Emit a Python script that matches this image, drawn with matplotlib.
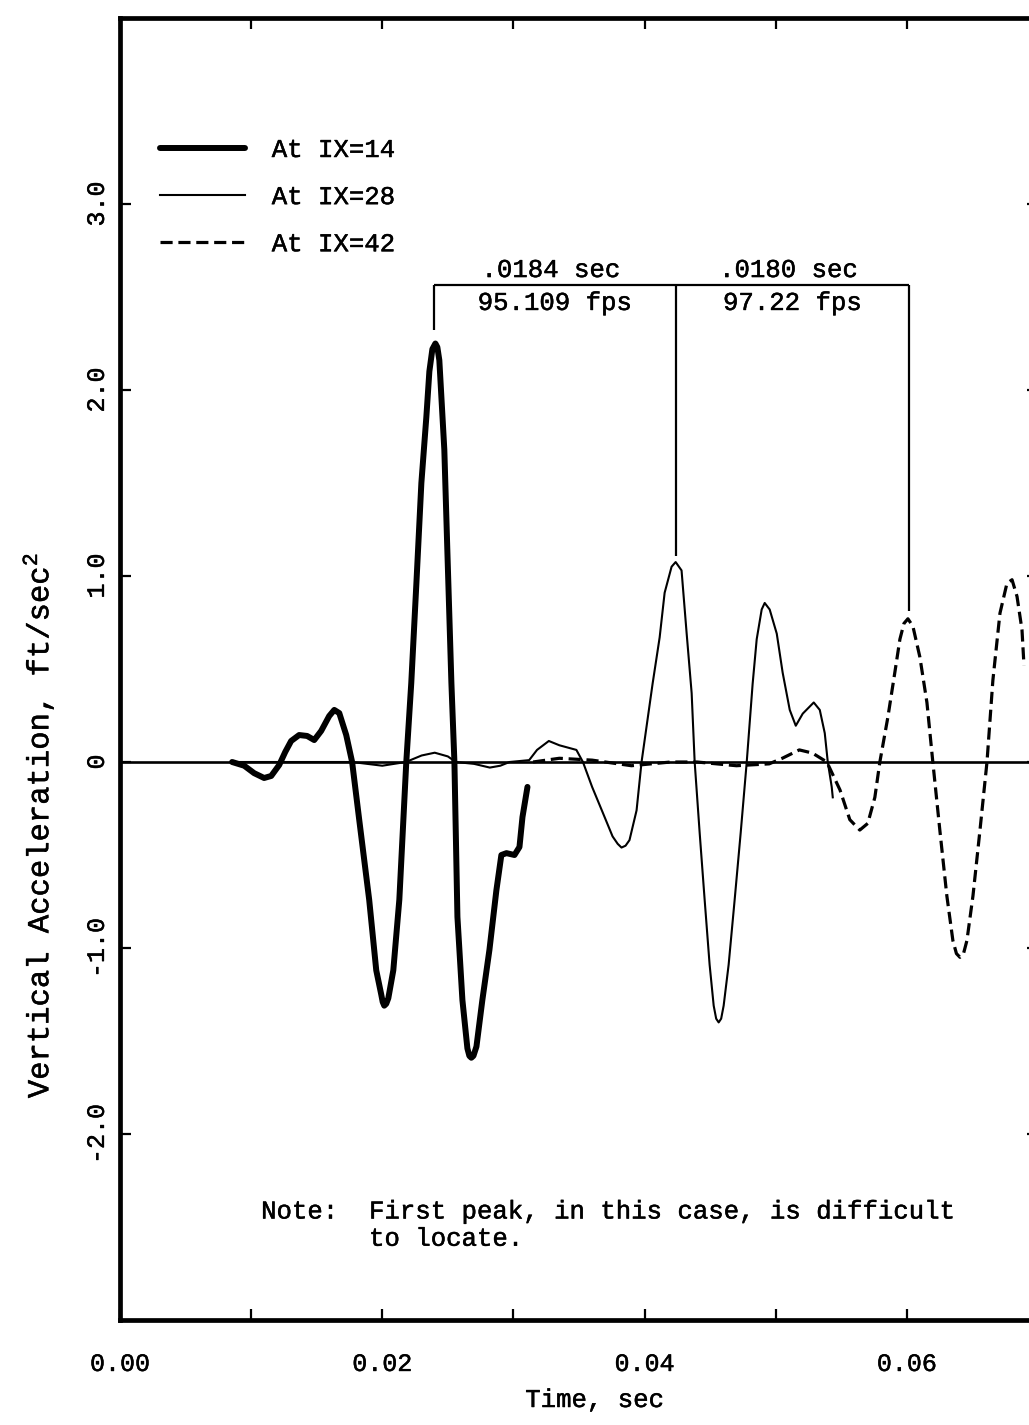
import matplotlib
matplotlib.use("Agg")
import matplotlib.pyplot as plt
import matplotlib.patheffects as pe
from matplotlib.ticker import FixedLocator

plt.rcParams['font.family'] = ['Liberation Mono', 'DejaVu Sans Mono']
plt.rcParams['mathtext.fontset'] = 'custom'
plt.rcParams['mathtext.rm'] = 'Liberation Mono'
plt.rcParams['mathtext.it'] = 'Liberation Mono'

# ---------------- data ----------------
t14 = [0.00855, 0.00947, 0.01023, 0.01099, 0.01153, 0.01214, 0.0126, 0.01305, 0.01366,
       0.01427, 0.01481, 0.01534, 0.01595, 0.01634, 0.01672, 0.01725, 0.0177, 0.01824,
       0.0190, 0.01954, 0.01992, 0.02003, 0.02015, 0.0203, 0.02046, 0.02084, 0.0213,
       0.02183, 0.02221, 0.0226, 0.02298, 0.02336, 0.02359, 0.02382, 0.02405, 0.0242,
       0.02435, 0.02473, 0.02496, 0.02527, 0.0255, 0.02573, 0.02611, 0.02649, 0.02664,
       0.02679, 0.02695, 0.02718, 0.02763, 0.02817, 0.0287, 0.02908, 0.02947, 0.03008,
       0.03046, 0.03069, 0.03107]
a14 = [0.0, -0.02, -0.06, -0.086, -0.075, -0.016, 0.054, 0.113, 0.145,
       0.14, 0.118, 0.167, 0.247, 0.28, 0.263, 0.145, 0.0, -0.31,
       -0.74, -1.12, -1.25, -1.29, -1.31, -1.30, -1.27, -1.12, -0.74,
       0.0, 0.425, 0.96, 1.5, 1.855, 2.10, 2.22, 2.25, 2.23,
       2.16, 1.68, 1.14, 0.425, 0.0, -0.833, -1.28, -1.54, -1.58,
       -1.59, -1.58, -1.53, -1.28, -1.01, -0.69, -0.5, -0.49, -0.5,
       -0.457, -0.296, -0.134]

t28 = [0.00855, 0.0177, 0.0200, 0.0218, 0.0230, 0.0240, 0.0250, 0.0256, 0.0270,
       0.0282, 0.0290, 0.0297, 0.0312, 0.0318, 0.0327, 0.0335, 0.0348, 0.0353,
       0.0360, 0.0368, 0.03756, 0.03795, 0.03824, 0.03855, 0.03885, 0.03939, 0.03977,
       0.04015, 0.04061, 0.04115, 0.04153, 0.04206, 0.04237, 0.04282, 0.04321, 0.04359,
       0.04382, 0.0442, 0.04458, 0.04496, 0.04527, 0.04546, 0.04565, 0.04584, 0.04603,
       0.04641, 0.04687, 0.04733, 0.04779, 0.04824, 0.04855, 0.04893, 0.04916, 0.04954,
       0.05008, 0.05053, 0.05107, 0.05153, 0.05206, 0.0529, 0.05336, 0.05374, 0.05397,
       0.05427, 0.05435]
a28 = [0.0, 0.0, -0.02, 0.0, 0.035, 0.05, 0.03, 0.0, -0.01,
       -0.03, -0.02, 0.0, 0.01, 0.065, 0.113, 0.09, 0.065, 0.0,
       -0.134, -0.27, -0.40, -0.44, -0.46, -0.45, -0.42, -0.26, 0.0,
       0.19, 0.42, 0.67, 0.91, 1.05, 1.075, 1.03, 0.69, 0.37,
       0.0, -0.38, -0.74, -1.09, -1.31, -1.38, -1.40, -1.38, -1.31,
       -1.09, -0.74, -0.38, 0.0, 0.42, 0.66, 0.82, 0.855, 0.82,
       0.69, 0.48, 0.28, 0.195, 0.26, 0.32, 0.28, 0.155, 0.0,
       -0.134, -0.19]

t42 = [0.0315, 0.0335, 0.0360, 0.0390, 0.0420, 0.0440, 0.0470, 0.0495, 0.0505,
       0.0518, 0.0528, 0.0539, 0.0549, 0.05565, 0.05641, 0.05702, 0.05756, 0.05794,
       0.05855, 0.05908, 0.05947, 0.05978, 0.06008, 0.06046, 0.06099, 0.06153, 0.06198,
       0.06252, 0.06305, 0.06351, 0.06378, 0.06405, 0.06432, 0.06458, 0.06504, 0.06557,
       0.06611, 0.06656, 0.0671, 0.06763, 0.06802, 0.0684, 0.06878, 0.06893]
a42 = [0.0, 0.02, 0.01, -0.02, 0.0, 0.0, -0.02, -0.01, 0.02,
       0.065, 0.048, 0.0, -0.15, -0.31, -0.366, -0.33, -0.19, 0.0,
       0.24, 0.48, 0.66, 0.745, 0.77, 0.73, 0.565, 0.32, 0.0,
       -0.37, -0.72, -0.96, -1.03, -1.05, -1.03, -0.96, -0.72, -0.37,
       0.0, 0.44, 0.8, 0.96, 0.98, 0.89, 0.71, 0.52]

series_labels = ["At IX=14", "At IX=28", "At IX=42"]

# bracket annotation (peak times and peak tops), interval texts
bracket_t = [0.02397, 0.0424, 0.0602]
bracket_low = [2.32, 1.11, 0.81]
bracket_level = 2.565
interval_sec = [".0184 sec", ".0180 sec"]
interval_fps = ["95.109 fps", "97.22 fps"]

xticks_major = [0.00, 0.02, 0.04, 0.06]
xticks_minor = [0.01, 0.03, 0.05]
xtick_labels = ["0.00", "0.02", "0.04", "0.06"]
yticks = [3.0, 2.0, 1.0, 0.0, -1.0, -2.0]
ytick_labels = ["3.0", "2.0", "1.0", "0", "-1.0", "-2.0"]

note_text = "Note:  First peak, in this case, is difficult\n       to locate."

# ---------------- figure ----------------
W, H = 1029, 1425
fig = plt.figure(figsize=(W / 100, H / 100), dpi=100)
ax = fig.add_axes([120 / W, (H - 1320) / H, (1038 - 120) / W, (1320 - 18) / H])
ax.set_xlim(0.0, 0.07)
ax.set_ylim(-3.0, 4.0)

bold_fx = [pe.withStroke(linewidth=0.35, foreground='black')]

ax.axhline(0, color='black', lw=1.9, zorder=1)
ax.plot(t14, a14, color='black', lw=4.3, solid_capstyle='round', solid_joinstyle='round',
        label=series_labels[0], zorder=3)
ax.plot(t28, a28, color='black', lw=1.5, solid_joinstyle='round', label=series_labels[1], zorder=2)
ax.plot(t42, a42, color='black', lw=2.3, dashes=(3.8, 1.8), label=series_labels[2], zorder=2)

# bracket
ax.hlines(bracket_level, bracket_t[0], bracket_t[-1], color='black', lw=1.6)
ax.vlines(bracket_t, bracket_low, bracket_level, color='black', lw=1.6)
fs = 18.5
for i in range(2):
    xm = 0.5 * (bracket_t[i] + bracket_t[i + 1])
    ax.text(xm - 0.0003, bracket_level + 0.08, interval_sec[i], ha='center', va='center',
            fontsize=fs, path_effects=bold_fx)
    ax.text(xm, bracket_level - 0.097, interval_fps[i], ha='center', va='center',
            fontsize=fs, path_effects=bold_fx)

ax.text(0.01076, -2.49, note_text, ha='left', va='center', fontsize=fs, linespacing=1.17,
        path_effects=bold_fx)

# ticks
ax.xaxis.set_major_locator(FixedLocator(xticks_major))
ax.xaxis.set_minor_locator(FixedLocator(xticks_minor))
ax.set_xticklabels(xtick_labels)
ax.yaxis.set_major_locator(FixedLocator(yticks))
ax.set_yticklabels(ytick_labels)
ax.tick_params(axis='both', which='both', direction='in', top=True, right=True,
               length=8, width=1.6, labelsize=18)
ax.tick_params(axis='x', which='major', pad=23)
ax.tick_params(axis='y', which='major', pad=8)
for lab in ax.get_yticklabels():
    lab.set_rotation(90)
    lab.set_va('center')
    lab.set_path_effects(bold_fx)
for lab in ax.get_xticklabels():
    lab.set_path_effects(bold_fx)

for s in ax.spines.values():
    s.set_linewidth(3.4)

xl = ax.set_xlabel("Time, sec", fontsize=18.5, va='center')
xl.set_path_effects(bold_fx)
ax.xaxis.set_label_coords((595 - 120) / 918, (1320 - 1400) / 1302)
yl = ax.set_ylabel("Vertical Acceleration, ft/sec$^2$", fontsize=22, va='center')
yl.set_path_effects(bold_fx)
ax.yaxis.set_label_coords((38 - 120) / 918, (1320 - 826) / 1302)

leg = ax.legend(loc='upper left', bbox_to_anchor=((160 - 120) / 918, (1320 - 138) / 1302),
                frameon=False, fontsize=fs, handlelength=3.3, handletextpad=1.05,
                labelspacing=0.9, borderpad=0, borderaxespad=0)
for txt in leg.get_texts():
    txt.set_path_effects(bold_fx)

fig.savefig("out.png", dpi=100)
